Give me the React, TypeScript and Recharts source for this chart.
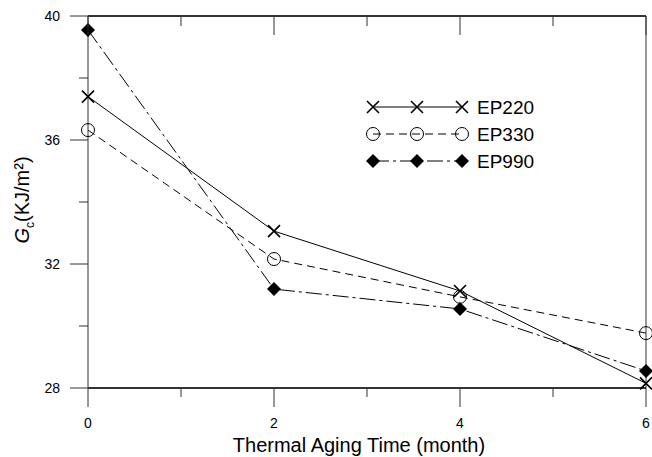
import React from 'react';
import { LineChart, Line, XAxis, YAxis, Legend } from 'recharts';

const months = [0, 2, 4, 6];
const ep220 = [37.4, 33.06, 31.13, 28.15];
const ep330 = [36.32, 32.16, 30.94, 29.77];
const ep990 = [39.55, 31.19, 30.55, 28.55];

const xTicks = [0, 1, 2, 3, 4, 5, 6];
const yTicks = [28, 30, 32, 34, 36, 38, 40];

const data = months.map((m, i) => ({ month: m, EP220: ep220[i], EP330: ep330[i], EP990: ep990[i] }));

const FONT = '"Liberation Sans", Arial, sans-serif';
const AXIS = '#333';

const STYLES: Record<string, { dash?: string; marker: string }> = {
    EP220: { marker: 'x' },
    EP330: { dash: '8 5', marker: 'o' },
    EP990: { dash: '16 4 3 4', marker: 'd' },
};

function Marker({ kind, cx, cy }: { kind: string; cx: number; cy: number }) {
    if (kind === 'x')
        return <path d={`M${cx - 6},${cy - 6}L${cx + 6},${cy + 6}M${cx - 6},${cy + 6}L${cx + 6},${cy - 6}`} stroke="#000" strokeWidth={1.6} fill="none" />;
    if (kind === 'o') return <circle cx={cx} cy={cy} r={6.5} stroke="#000" strokeWidth={1} fill="none" />;
    return <path d={`M${cx},${cy - 7}L${cx + 7},${cy}L${cx},${cy + 7}L${cx - 7},${cy}Z`} fill="#000" />;
}

const dotFor = (kind: string) => (p: any) => <Marker key={p.index} kind={kind} cx={p.cx} cy={p.cy} />;

const BottomTick = (p: any) => {
    const major = p.payload.value % 2 === 0;
    return (
        <g>
            <line x1={p.x} x2={p.x} y1={p.y} y2={p.y + (major ? 19 : 9)} stroke={AXIS} />
            {major && <text x={p.x} y={p.y + 40} textAnchor="middle" fontSize={14} fontFamily={FONT} fill="#000">{p.payload.value}</text>}
        </g>
    );
};

const TopTick = (p: any) => {
    const major = p.payload.value % 2 === 0;
    return <line x1={p.x} x2={p.x} y1={p.y} y2={p.y + (major ? 19 : 10)} stroke={AXIS} />;
};

const LeftTick = (p: any) => {
    const major = (p.payload.value - 28) % 4 === 0;
    return (
        <g>
            <line x1={p.x - (major ? 18 : 9)} x2={p.x} y1={p.y} y2={p.y} stroke={AXIS} />
            {major && <text x={p.x - 28} y={p.y + 5} textAnchor="end" fontSize={14} fontFamily={FONT} fill="#000">{p.payload.value}</text>}
        </g>
    );
};

const RightTick = (p: any) => {
    const major = (p.payload.value - 28) % 4 === 0;
    return <line x1={p.x - (major ? 18 : 9)} x2={p.x} y1={p.y} y2={p.y} stroke={AXIS} />;
};

const YTitle = (props: any) => {
    const vb = props.viewBox;
    const cy = vb.y + vb.height / 2;
    return (
        <text transform={`translate(29,${cy - 2}) rotate(-90)`} textAnchor="middle" fontSize={20} fontFamily={FONT} fill="#000">
            <tspan fontStyle="italic">G</tspan>
            <tspan fontSize={12} dy={5}>c</tspan>
            <tspan dy={-5}>(KJ/m²)</tspan>
        </text>
    );
};

const LegendBox = (props: any) => (
    <svg width={200} height={84} style={{ display: 'block' }}>
        {(props.payload || []).map((e: any, i: number) => {
            const s = STYLES[e.value];
            const y = 14 + i * 27;
            return (
                <g key={e.value}>
                    <line x1={13} x2={102} y1={y} y2={y} stroke="#000" strokeDasharray={s.dash} />
                    {[13, 57, 102].map((x) => <Marker key={x} kind={s.marker} cx={x} cy={y} />)}
                    <text x={117} y={y + 7} fontSize={19} fontFamily={FONT} fill="#000">{e.value}</text>
                </g>
            );
        })}
    </svg>
);

export default function App() {
    return (
        <div style={{ position: 'absolute', left: 0, top: 0 }}>
            <LineChart width={652} height={457} data={data} margin={{ top: 15, right: 5, left: 0, bottom: 0 }}>
                <XAxis dataKey="month" type="number" domain={[0, 6]} ticks={xTicks} height={69} tickSize={0} tickMargin={0}
                    tickLine={false} tick={<BottomTick />} axisLine={{ stroke: AXIS, strokeWidth: 2 }}
                    label={{ value: 'Thermal Aging Time (month)', position: 'insideBottom', offset: 5, dx: -8, fontSize: 20, fill: '#000', fontFamily: FONT }} />
                <XAxis xAxisId="top" orientation="top" dataKey="month" type="number" domain={[0, 6]} ticks={xTicks} height={1}
                    tickSize={0} tickMargin={0} tickLine={false} tick={<TopTick />} axisLine={{ stroke: AXIS, strokeWidth: 2 }} />
                <YAxis type="number" domain={[28, 40]} ticks={yTicks} width={88} tickSize={0} tickMargin={0} tickLine={false}
                    tick={<LeftTick />} axisLine={{ stroke: AXIS }} label={<YTitle />} />
                <YAxis yAxisId="right" orientation="right" type="number" domain={[28, 40]} ticks={yTicks} width={1} tickSize={0}
                    tickMargin={0} tickLine={false} tick={<RightTick />} axisLine={{ stroke: AXIS }} />
                <Legend layout="vertical" verticalAlign="middle" align="center" content={<LegendBox />}
                    wrapperStyle={{ left: 360, top: 93, width: 200 }} />
                <Line dataKey="EP220" stroke="#000" strokeWidth={1} dot={dotFor('x')} isAnimationActive={false} />
                <Line dataKey="EP330" stroke="#000" strokeWidth={1} strokeDasharray="8 5" dot={dotFor('o')} isAnimationActive={false} />
                <Line dataKey="EP990" stroke="#000" strokeWidth={1} strokeDasharray="16 4 3 4" dot={dotFor('d')} isAnimationActive={false} />
            </LineChart>
        </div>
    );
}
